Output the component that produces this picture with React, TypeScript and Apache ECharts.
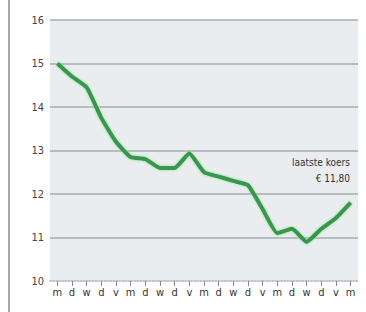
import React, { useEffect, useRef } from "react";
import * as echarts from "echarts";

const days = ["m","d","w","d","v","m","d","w","d","v","m","d","w","d","v","m","d","w","d","v","m"];
const koers = [15.0, 14.7, 14.45, 13.75, 13.2, 12.85, 12.8, 12.6, 12.6, 12.93, 12.5, 12.4, 12.3, 12.2, 11.65, 11.1, 11.2, 10.9, 11.2, 11.45, 11.8];
const yTicks = [10, 11, 12, 13, 14, 15, 16];
const noteLines = ["laatste koers", "€ 11,80"];

const FONT = "'Liberation Sans Narrow', 'DejaVu Sans Condensed', 'Arial Narrow', sans-serif";

export default function App() {
  const ref = useRef<HTMLDivElement>(null);
  useEffect(() => {
    const chart = echarts.init(ref.current!, null, { renderer: "svg" });
    chart.setOption({
      animation: false,
      backgroundColor: "#ffffff",
      grid: {
        left: 50, right: 8, top: 20, bottom: 31,
        show: true, backgroundColor: "#eaedf0", borderWidth: 0,
      },
      xAxis: {
        type: "category",
        data: days,
        boundaryGap: true,
        axisLine: { show: true, lineStyle: { color: "#b0b4b8", width: 1.5, type: "dotted" } },
        axisTick: { show: true, alignWithLabel: true, length: 5, lineStyle: { color: "#888", width: 1 } },
        axisLabel: { color: "#333", fontSize: 11, fontFamily: FONT, margin: 6 },
      },
      yAxis: {
        type: "value",
        min: yTicks[0],
        max: yTicks[yTicks.length - 1],
        interval: 1,
        axisLine: { show: false },
        axisTick: { show: false },
        axisLabel: { color: "#444", fontSize: 11, fontFamily: FONT, margin: 6 },
        splitLine: { show: false },
      },
      series: [
        {
          type: "line",
          data: koers,
          symbol: "none",
          smooth: 0.15,
          z: 3,
          lineStyle: {
            color: "#3b944f",
            width: 4,
            shadowColor: "rgba(120,230,130,0.9)",
            shadowBlur: 3,
          },
          markLine: {
            silent: true,
            symbol: "none",
            label: { show: false },
            z: 1,
            lineStyle: { color: "#a8abae", width: 1.5, type: "solid" },
            data: yTicks.slice(1).map((v) => ({ yAxis: v })),
          },
        },
      ],
      graphic: [
        { type: "line", shape: { x1: 9, y1: 0, x2: 9, y2: 312 }, style: { stroke: "#8a8a8a", lineWidth: 1.5 } },
        {
          type: "text", x: 350, y: 157,
          style: { text: noteLines[0], fill: "#333", font: `10px ${FONT}`, align: "right", verticalAlign: "top" },
        },
        {
          type: "text", x: 350, y: 173,
          style: { text: noteLines[1], fill: "#333", font: `10px ${FONT}`, align: "right", verticalAlign: "top" },
        },
      ],
    });
    return () => chart.dispose();
  }, []);
  return <div ref={ref} style={{ position: "fixed", left: 0, top: 0, width: 366, height: 312 }} />;
}
